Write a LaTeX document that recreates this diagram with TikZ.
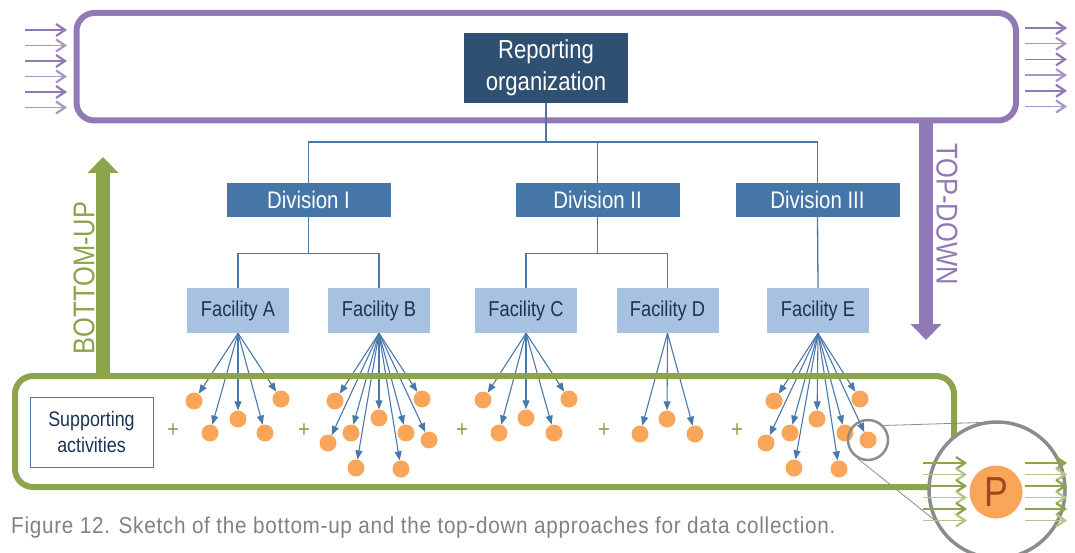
\documentclass[tikz,border=0pt]{standalone}
\usepackage{fontspec}
\setmainfont{Liberation Sans}[FakeStretch=0.85]
\newfontfamily\captionfont{Liberation Sans}[FakeStretch=0.9,LetterSpace=3.1]
\usetikzlibrary{arrows.meta}
\usetikzlibrary{calc}
\usetikzlibrary{positioning}

\definecolor{purpleline}{RGB}{144,121,181}
\definecolor{greenline}{RGB}{140,164,76}
\definecolor{orgblue}{RGB}{47,80,113}
\definecolor{divblue}{RGB}{70,117,168}
\definecolor{facblue}{RGB}{167,193,224}
\definecolor{facnavy}{RGB}{28,52,84}
\definecolor{treeblue}{RGB}{74,120,171}
\definecolor{dotorange}{RGB}{249,166,90}
\definecolor{lensgray}{RGB}{140,140,140}
\definecolor{capgray}{RGB}{128,129,131}
\definecolor{pbrown}{RGB}{155,74,28}

\begin{document}
\begin{tikzpicture}
	[x=1pt,y=-1pt,
	frame/.style={rounded corners=18pt,line width=6pt,inner sep=0pt},
	orgbox/.style={fill=orgblue,text=white,minimum width=164pt,minimum height=70pt,align=center,font=\fontsize{26}{32}\selectfont},
	divbox/.style={fill=divblue,text=white,minimum width=164pt,minimum height=34pt,font=\fontsize{24}{28}\selectfont},
	facbox/.style={fill=facblue,text=facnavy,minimum width=102pt,minimum height=45pt,font=\fontsize{21.5}{26}\selectfont},
	dot/.style={circle,fill=dotorange,minimum size=17pt,inner sep=0pt},
	plus/.style={text=greenline,font=\fontsize{24}{24}\selectfont},
	tree/.style={draw=treeblue,line width=1.3pt},
	feed/.style={treeblue,line width=1.1pt,-{Triangle[length=9pt,width=7pt]}},
	inflow/.style={line width=1.5pt,-{Straight Barb[length=9pt,width=12pt,line width=2.2pt]}},
	flowlabel/.style={font=\fontsize{30}{30}\selectfont}]
	\useasboundingbox (0,0) rectangle (1075,553);

	% purple frame with the reporting organization
	\foreach \i in {0,...,5} {
		\pgfmathsetmacro{\shade}{ifthenelse(mod(\i,2)==0,100,78)}
		\draw[inflow,purpleline!\shade] (25,30+15.5*\i) -- (67,30+15.5*\i);
		\draw[inflow,purpleline!\shade] (1025,28+15.7*\i) -- (1067,28+15.7*\i);
	}
	\node[frame,draw=purpleline,minimum width=939.5pt,minimum height=107.5pt] (orgframe) at (546.25,66.75) {};
	\node[orgbox] (rep) at (546,68) {Reporting\\organization};

	% divisions and facilities
	\node[divbox] (div1) at (308.5,200) {Division I};
	\node[divbox] (div2) at (597.5,200) {Division II};
	\node[divbox] (div3) at (817.5,200) {Division III};
	\node[facbox] (facA) at (238,310.5) {Facility A};
	\node[facbox] (facB) at (379,310.5) {Facility B};
	\node[facbox] (facC) at (526,310.5) {Facility C};
	\node[facbox] (facD) at (667.5,310.5) {Facility D};
	\node[facbox] (facE) at (818,310.5) {Facility E};

	\coordinate (bus) at (546,142);
	\draw[tree] (rep.south) -- (bus);
	\draw[tree] (div1.north) |- (bus) -| (div3.north);
	\draw[tree] (div2.north) -- (div2.north |- bus);
	\draw[tree] (div1.south) -- ++(0,36) coordinate (j1);
	\draw[tree] (facA.north) |- (j1) -| (facB.north);
	\draw[tree] (div2.south) -- ++(0,36) coordinate (j2);
	\draw[tree] (facC.north) |- (j2) -| (facD.north);
	\draw[tree] (div3.south) -- (facE.north);

	% sources
	\foreach \n/\x/\y in {a1/194/401,a2/210/433,a3/238/419,a4/265/433,a5/281/399,
		b1/335/401,b2/328/443,b3/351/433,b4/356/468,b5/379/418,b6/406/433,b7/401/469,b8/422/399,b9/429/440,
		c1/483/400,c2/499/433,c3/526/418,c4/554/433,c5/569/399,
		d1/640/434,d2/667/419,d3/695/434,
		e1/774/401,e2/766/443,e3/790/433,e4/794/468,e5/817/419,e6/845/433,e7/839/469,e8/860/399,e9/868/440}
		\node[dot] (\n) at (\x,\y) {};
	\foreach \f/\list in {facA/{a1,a2,a3,a4,a5},facB/{b1,b2,b3,b4,b5,b6,b7,b8,b9},
		facC/{c1,c2,c3,c4,c5},facD/{d1,d2,d3},facE/{e1,e2,e3,e4,e5,e6,e7,e8,e9}}
		\foreach \n in \list \draw[feed] (\f.south) -- (\n);

	% green frame
	\node[frame,draw=greenline,minimum width=939pt,minimum height=111pt] (siteframe) at (484.5,431.5) {};
	\node[draw=treeblue,line width=1pt,fill=white,text=facnavy,align=center,minimum width=123pt,minimum height=70pt,
		font=\fontsize{21}{26}\selectfont] (support) at (91.5,432) {Supporting\\activities};
	\foreach \n/\x in {p1/173,p2/304,p3/462,p4/604,p5/737}
		\node[plus] (\n) at (\x,431) {+};

	% bottom-up and top-down
	\coordinate (butip) at (103,157);
	\draw[greenline,line width=14pt,-{Triangle[length=16pt,width=30pt]}] (siteframe.north -| butip) -- (butip);
	\node[flowlabel,rotate=90,text=greenline] (bulabel) at (84,278) {BOTTOM-UP};
	\coordinate (tdtip) at (926,340);
	\draw[purpleline,line width=14pt,-{Triangle[length=16pt,width=30pt]}] (orgframe.south -| tdtip) -- (tdtip);
	\node[flowlabel,rotate=-90,text=purpleline] (tdlabel) at (947,214) {TOP-DOWN};

	% magnifier
	\node[circle,draw=lensgray,line width=2.5pt,minimum size=40pt,inner sep=0pt] (lens) at (868,440) {};
	\draw[lensgray,line width=0.8pt] (lens.43) -- (997,422);
	\draw[lensgray,line width=0.8pt] (lens.241) -- (937,522);
	\node[circle,draw=lensgray,fill=white,line width=3.5pt,minimum size=136pt,inner sep=0pt] (mag) at (997,490) {};
	\foreach \i in {0,...,5} {
		\pgfmathsetmacro{\shade}{ifthenelse(mod(\i,2)==0,100,65)}
		\draw[inflow,greenline!\shade,line width=1.3pt] (923,463+11.5*\i) -- (967,463+11.5*\i);
		\draw[inflow,greenline!\shade,line width=1.3pt] (1025,463+11.5*\i) -- (1067,463+11.5*\i);
	}
	\node[circle,fill=dotorange,minimum size=53pt,inner sep=0pt,text=pbrown,font=\fontsize{42}{42}\selectfont] (pdot) at (996,492) {P};

	\node[anchor=base west,inner sep=0pt,text=capgray,font=\captionfont\fontsize{23}{26}\selectfont] (caption) at (11,533)
		{Figure 12. Sketch of the bottom-up and the top-down approaches for data collection.};
\end{tikzpicture}
\end{document}
